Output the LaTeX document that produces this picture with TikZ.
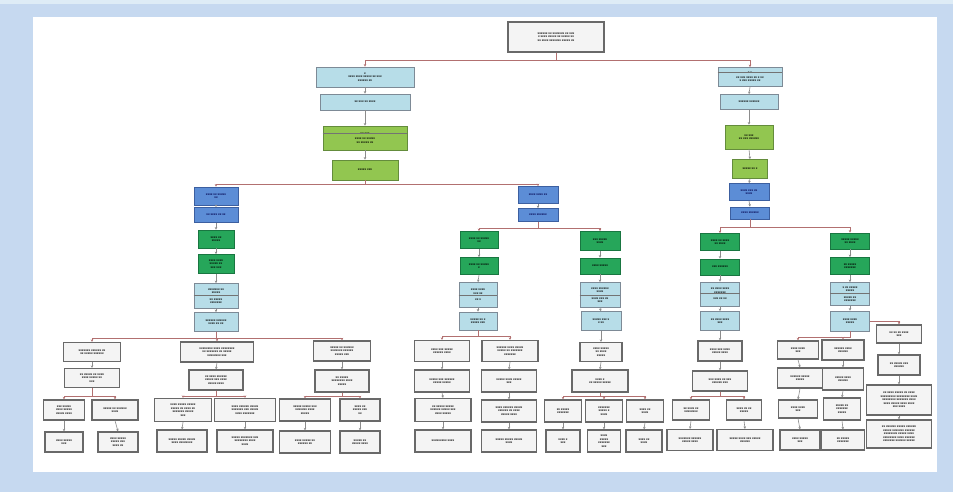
\documentclass[tikz,border=0pt]{standalone}
\usepackage{fontspec}
\setsansfont{Liberation Sans}
\usetikzlibrary{arrows.meta}
\definecolor{outerc}{RGB}{198,217,240}
\definecolor{stripc}{RGB}{222,236,246}
\definecolor{lbfill}{RGB}{183,221,232}
\definecolor{lbdraw}{RGB}{125,138,150}
\definecolor{limefill}{RGB}{146,198,80}
\definecolor{limedraw}{RGB}{100,140,60}
\definecolor{blfill}{RGB}{92,141,214}
\definecolor{bldraw}{RGB}{60,95,160}
\definecolor{grfill}{RGB}{38,166,90}
\definecolor{grdraw}{RGB}{25,118,65}
\definecolor{wbfill}{RGB}{244,244,244}
\definecolor{wbdraw}{RGB}{105,105,105}
\definecolor{busc}{RGB}{178,112,112}
\definecolor{arrc}{RGB}{140,140,140}
\tikzset{
 box/.style={draw, line width=0.8pt, align=center, inner sep=0.5pt,
   font=\sffamily\bfseries\fontsize{3}{3.5}\selectfont, text=black},
 wb/.style={box, fill=wbfill, draw=wbdraw, line width=1.2pt},
 lb/.style={box, fill=lbfill, draw=lbdraw},
 lime/.style={box, fill=limefill, draw=limedraw},
 bl/.style={box, fill=blfill, draw=bldraw, text=blue!30!black},
 gr/.style={box, fill=grfill, draw=grdraw},
 arr/.style={draw=arrc, line width=0.6pt, -{Stealth[length=2.5pt,width=2.5pt]}},
 bus/.style={draw=busc, line width=0.9pt, -{Stealth[length=2.5pt,width=2.5pt]}},
 div/.style={draw=black!55, line width=0.5pt},
}
\newcommand\bx[7]{\node[#2,minimum width=#5pt,minimum height=#6pt] (#1) at (#3,#4) {#7};}
\newcommand\busto[3]{\draw[bus] (#1.south) -- (#1.south |- #2) -| (#3.north);}
\newcommand\divi[2]{\draw[div] ([yshift=-#2pt]#1.north west) -- ([yshift=-#2pt]#1.north east);}
\newcommand\ch[2]{\draw[arr] (#1.south) -- (#2.north);}
\begin{document}
\begin{tikzpicture}[x=1pt,y=-1pt]
\useasboundingbox (0,0) rectangle (953,492);
\fill[outerc] (0,0) rectangle (953,492);
\fill[stripc] (0,0) rectangle (953,4);
\fill[white] (33,17) rectangle (937,472);
% ---------- top ----------
\bx{root}{wb}{556}{37}{96}{30}{xxxxxx xx xxxxxxx xx xxx\\ x xxxx xxxxx xx xxxxx xx\\ xx xxxx xxxxxxx xxxxx xx}
\bx{L1}{lb}{365}{77}{98}{20}{x\\ xxxx xxxx xxxxx xx xxx\\ xxxxxx xx}
\bx{L2}{lb}{365}{102}{90}{16}{xx xxx xx xxxx}
\bx{L3}{lime}{365}{138}{84}{24}{xx xxx\\[1.5pt] xxxx xx xxxxx\\ xx xxxxx xx}
\bx{L4}{lime}{365}{170}{66}{20}{xxxxx xxx}
\bx{R1}{lb}{750}{77}{64}{19}{x x\\[1pt] xx xxx xxxx xx x xx\\ x xxx xxxxx xx}
\bx{R2}{lb}{749}{102}{58}{15}{xxxxxx xxxxxx}
\bx{R3}{lime}{749}{137}{48}{24}{xx xxx\\ xx xxx xxxxxx}
\bx{R4}{lime}{750}{169}{35}{19}{xxxxx xx x}
\bx{R5}{bl}{749}{192}{40}{17}{xxxx xxx xx\\ xxxx}
\bx{R6}{bl}{750}{213}{39}{12}{xxxx xxxxxx}
% ---------- level blue/green columns ----------
\bx{LL1}{bl}{216}{196}{44}{18}{xxxx xx xxxxx\\ xx}
\bx{LL2}{bl}{216}{215}{44}{15}{xx xxxx xx xx}
\bx{LL3}{gr}{216}{239}{36}{18}{xxxx xx\\ xxxxx}
\bx{LL4}{gr}{216}{264}{36}{19}{xxxx xxxx\\ xxxxx xx\\ xxx xxx}
\bx{LL5}{lb}{216}{296}{44}{25}{xxxxxxx xx\\ xxxxx\\[3pt] xx xxxxx\\ xxxxxxx}
\bx{LL6}{lb}{216}{322}{44}{19}{xxxxxx xxxxxx\\ xxxx xx xx}
\bx{M1}{bl}{538}{195}{40}{17}{xxxx xxxx xx}
\bx{M2}{bl}{538}{215}{40}{13}{xxxx xxxxxx}
\bx{ML1}{gr}{479}{240}{38}{17}{xxxx xx xxxxx\\ xx}
\bx{ML2}{gr}{479}{266}{38}{17}{xxxx xx xxxxx\\ x}
\bx{ML3}{lb}{478}{295}{38}{25}{xxxx xxxx\\ xxx xx\\[3pt] xx x}
\bx{ML4}{lb}{478}{321}{38}{18}{xxxxx xx x\\ xxxxx xxx}
\bx{MR1}{gr}{600}{241}{40}{19}{xxx xxxxx\\ xxxx}
\bx{MR2}{gr}{600}{266}{40}{16}{xxxx xxxxx}
\bx{MR3}{lb}{600}{295}{40}{25}{xxxx xxxxxx\\ xxxx\\[3pt] xxxx xxx xx\\ xxx}
\bx{MR4}{lb}{601}{321}{40}{19}{xxxxx xxx x\\ x xx}
\bx{RL1}{gr}{720}{242}{39}{17}{xxxx xx xxxx\\ xx xxxx}
\bx{RL2}{gr}{720}{267}{39}{16}{xxx xxxxxx}
\bx{RL3}{lb}{720}{294}{39}{24}{xx xxxx xxxx\\ xxxxxxx\\[3pt] xxx xx xx}
\bx{RL4}{lb}{720}{321}{39}{19}{xx xxxx xxxx\\ xxx}
\bx{RR1}{gr}{850}{241}{39}{16}{xxxxx xxxxx\\ xx xxxx}
\bx{RR2}{gr}{850}{266}{39}{17}{xx xxxxx\\ xxxxxxx}
\bx{RR3}{lb}{850}{294}{39}{23}{x xx xxxxx\\ xxxxx\\[3pt] xxxxx xx\\ xxxxxxx}
\bx{RR4}{lb}{850}{321}{39}{20}{xxxx xxxx\\ xxxxx}
\divi{L3}{8}
\divi{R1}{5}
\divi{LL5}{12}
\divi{ML3}{13}
\divi{MR3}{13}
\divi{RL3}{12}
\divi{RR3}{11}
% ---------- bottom white boxes ----------
\bx{A1}{wb}{92}{352}{57}{19}{xxxxxxx xxxxxx xx\\ xx xxxxx xxxxxx}
\bx{A2}{wb}{92}{378}{55}{19}{xx xxxxx xx xxxx\\ xxxx xxxxx xx\\ xxx}
\bx{A3a}{wb}{64}{410}{41}{20}{xxx xxxxx\\ xxxx xxxxx\\ xxxxx xxxx}
\bx{A3b}{wb}{115}{410}{46}{20}{xxxxx xx xxxxxx\\ xxxx}
\bx{A4a}{wb}{64}{442}{38}{20}{xxxx xxxxx\\ xxx}
\bx{A4b}{wb}{118}{442}{40}{20}{xxxx xxxxx\\ xxxxx xxx\\ xxxx xx}
\bx{B1}{wb}{217}{352}{73}{20}{xxxxxxxx xxxx xxxxxxxx\\ xx xxxxxxx xx xxxxx\\ xxxxxxxx xxx}
\bx{B2}{wb}{216}{380}{54}{20}{xx xxxx xxxxxx\\ xxxxx xxx xxxx\\ xxxxx xxxx}
\bx{B3a}{wb}{183}{410}{57}{23}{xxxx xxxxx xxxxx\\ xxxxx xx xxxx xx\\ xxxxxxx xxxxx\\ xxx}
\bx{B3b}{wb}{245}{410}{61}{23}{xxxx xxxxxx xxxxx\\ xxxxxxx xxx xxxxx\\ xxxx xxxxxxx}
\bx{B4a}{wb}{182}{441}{50}{22}{xxxxx xxxxx xxxxx\\ xxxx xxxxxxxx}
\bx{B4b}{wb}{245}{441}{56}{22}{xxxxx xxxxxxx xxx\\ xxxxxxxx xxxx\\ xxxx}
\bx{C1}{wb}{342}{351}{57}{20}{xxxxx xx xxxxxx\\ xxxxxxx xxxxxx\\ xxxxx xxx}
\bx{C2}{wb}{342}{381}{54}{22}{xx xxxxx\\ xxxxxxxx xxxx\\ xxxxx}
\bx{C3a}{wb}{305}{410}{51}{22}{xxxxx xxxxx xxx\\ xxxxxxx xxxx\\ xxxxx}
\bx{C3b}{wb}{360}{410}{40}{22}{xxxx xx\\ xxxxx xxx\\ xx}
\bx{C4a}{wb}{305}{442}{51}{22}{xxxx xxxxx xx\\ xxxxxx xx}
\bx{C4b}{wb}{360}{442}{40}{22}{xxxxx xx\\ xxxxx xxxx}
\bx{D1}{wb}{442}{351}{55}{21}{xxxx xxx xxxxx\\ xxxxxx xxxx}
\bx{D2}{wb}{442}{381}{55}{22}{xxxxx xxx xxxxxx\\ xxxxx xxxxx}
\bx{D3}{wb}{443}{410}{56}{23}{xx xxxxx xxxxx\\ xxxxxx xxxxx xxx\\ xxxx xxxxx}
\bx{D4}{wb}{443}{441}{56}{22}{xxxxxxxxx xxxx}
\bx{E1}{wb}{510}{351}{56}{21}{xxxxxx xxxx xxxxx\\ xxxxx xx xxxxxxx\\ xxxxxxx}
\bx{E2}{wb}{509}{381}{55}{22}{xxxxx xxxx xxxxx\\ xxx}
\bx{E3}{wb}{509}{411}{55}{22}{xxxx xxxxxx xxxxx\\ xxxxxx xx xxxx\\ xxxxx xxxx}
\bx{E4}{wb}{509}{441}{55}{22}{xxxxx xxxxx xxxxx\\ xxxx}
\bx{F1}{wb}{601}{352}{42}{19}{xxxx xxxxx\\ xx xxxx\\ xxxxx}
\bx{F2}{wb}{600}{381}{56}{22}{xxxx x\\ xx xxxxx xxxxx}
\bx{F3a}{wb}{563}{411}{37}{22}{xx xxxxx\\ xxxxxxx}
\bx{F3b}{wb}{604}{411}{37}{22}{xxxxxxx\\ xxxxx x\\ xxxx}
\bx{F3c}{wb}{645}{411}{37}{22}{xxxx xx\\ xxxx}
\bx{F4a}{wb}{563}{441}{34}{22}{xxxx x\\ xxx}
\bx{F4b}{wb}{604}{441}{33}{22}{xxxx\\ xxxxx\\ xxxxxxx\\ xxx}
\bx{F4c}{wb}{644}{441}{36}{22}{xxxx xx\\ xxxx}
\bx{G1}{wb}{720}{351}{44}{20}{xxxx xxx xxxx\\ xxxxx xxxx}
\bx{G2}{wb}{720}{381}{55}{20}{xxx xxxx xx xxx\\ xxxxxx xxx}
\bx{G3a}{wb}{691}{410}{37}{20}{xx xxxx xx\\ xxxxxxxx}
\bx{G3b}{wb}{744}{410}{35}{20}{xxxx xx xx\\ xxxxx}
\bx{G4a}{wb}{690}{440}{46}{21}{xxxxxxx xxxxxx\\ xxxxx xxxx}
\bx{G4b}{wb}{745}{440}{56}{21}{xxxxx xxxx xxx xxxxx\\ xxxxxx}
\bx{H1}{wb}{798}{350}{41}{18}{xxxx xxxx\\ xxx}
\bx{H2}{wb}{800}{378}{45}{20}{xxxxxx xxxxx\\ xxxxx}
\bx{H3}{wb}{798}{409}{39}{18}{xxxx xxxx\\ xxx}
\bx{H4}{wb}{800}{440}{40}{20}{xxxx xxxxx\\ xxx}
\bx{I1}{wb}{843}{350}{42}{20}{xxxxxx xxxx\\ xxxxxx}
\bx{I2}{wb}{843}{379}{41}{22}{xxxxx xxxx\\ xxxxxx}
\bx{I3}{wb}{842}{409}{37}{22}{xxxxx xx\\ xxxxxxx\\ xxxxx}
\bx{I4}{wb}{843}{440}{43}{20}{xx xxxxx\\ xxxxxxx}
\bx{J1}{wb}{899}{334}{45}{18}{xx xx xx xxxx\\ xxx}
\bx{J2}{wb}{899}{365}{42}{20}{xx xxxxx xxx\\ xxxxxx}
\bx{J3}{wb}{899}{400}{65}{30}{xx xxxx xxxxx xx xxxx\\ xxxxxxxxx xxxxxxxx xxxx\\ xxxxxxxx xxxxxxx xxxx\\ xxxx xxxxx xxxx xxxx\\ xxx xxxx}
\bx{J4}{wb}{899}{434}{65}{28}{xx xxxxxx xxxxx xxxxxx\\ xxxxx xxxxxxx xxxxxx\\ xxxxxxxx xxxxx xxxx\\ xxxxxxxx xxxx xxxxxx\\ xxxxxxx xxxxxx xxxxx}
% ---------- bus levels ----------
\coordinate (yT) at (0,60);
\coordinate (y1) at (0,184);
\coordinate (yLL) at (0,338);
\coordinate (yA) at (0,396);
\coordinate (yM) at (0,228);
\coordinate (yML) at (0,336);
\coordinate (yR) at (0,227);
\coordinate (yH) at (0,337);
\busto{root}{yT}{L1}
\busto{root}{yT}{R1}
\busto{L4}{y1}{LL1}
\busto{L4}{y1}{M1}
\busto{LL6}{yLL}{A1}
\busto{LL6}{yLL}{B1}
\busto{LL6}{yLL}{C1}
\busto{A2}{yA}{A3a}
\busto{A2}{yA}{A3b}
\busto{B2}{yA}{B3a}
\busto{B2}{yA}{B3b}
\busto{C2}{yA}{C3a}
\busto{C2}{yA}{C3b}
\busto{M2}{yM}{ML1}
\busto{M2}{yM}{MR1}
\busto{ML4}{yML}{D1}
\busto{ML4}{yML}{E1}
\busto{F2}{yA}{F3a}
\busto{F2}{yA}{F3b}
\busto{F2}{yA}{F3c}
\busto{R6}{yR}{RL1}
\busto{R6}{yR}{RR1}
\busto{G2}{yA}{G3a}
\busto{G2}{yA}{G3b}
\busto{RR4}{yH}{H1}
\busto{RR4}{yH}{I1}
\draw[bus] (RR4.east) -| (J1.north);
% ---------- vertical chains ----------
\ch{L1}{L2}\ch{L2}{L3}\ch{L3}{L4}
\ch{R1}{R2}\ch{R2}{R3}\ch{R3}{R4}\ch{R4}{R5}\ch{R5}{R6}
\ch{LL1}{LL2}\ch{LL2}{LL3}\ch{LL3}{LL4}\ch{LL4}{LL5}\ch{LL5}{LL6}
\ch{M1}{M2}
\ch{ML1}{ML2}\ch{ML2}{ML3}\ch{ML3}{ML4}
\ch{MR1}{MR2}\ch{MR2}{MR3}\ch{MR3}{MR4}
\ch{RL1}{RL2}\ch{RL2}{RL3}\ch{RL3}{RL4}
\ch{RR1}{RR2}\ch{RR2}{RR3}\ch{RR3}{RR4}
\ch{A1}{A2}\ch{A3a}{A4a}\ch{A3b}{A4b}
\ch{B1}{B2}\ch{B3a}{B4a}\ch{B3b}{B4b}
\ch{C1}{C2}\ch{C3a}{C4a}\ch{C3b}{C4b}
\ch{D1}{D2}\ch{D2}{D3}\ch{D3}{D4}
\ch{E1}{E2}\ch{E2}{E3}\ch{E3}{E4}
\ch{MR4}{F1}\ch{F1}{F2}\ch{F3a}{F4a}\ch{F3b}{F4b}\ch{F3c}{F4c}
\ch{RL4}{G1}\ch{G1}{G2}\ch{G3a}{G4a}\ch{G3b}{G4b}
\ch{H1}{H2}\ch{H2}{H3}\ch{H3}{H4}
\ch{I1}{I2}\ch{I2}{I3}\ch{I3}{I4}
\ch{J1}{J2}\ch{J2}{J3}\ch{J3}{J4}
\end{tikzpicture}
\end{document}
